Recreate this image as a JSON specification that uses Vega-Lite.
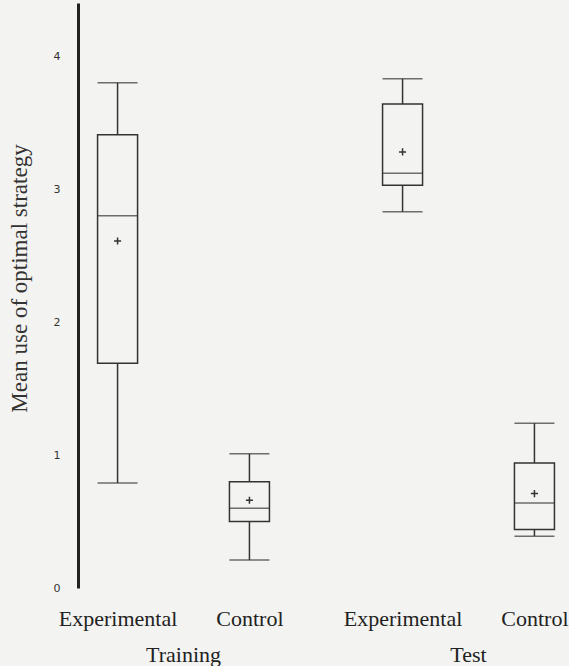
{
  "$schema": "https://vega.github.io/schema/vega-lite/v6.json",
  "background": "#f3f3f1",
  "padding": {"left": 8, "top": 3, "right": 0, "bottom": 0},
  "config": {"view": {"stroke": null}},
  "data": {
    "values": [
      {"phase": "Training", "group": "Experimental", "lower": 0.79, "q1": 1.69, "median": 2.80, "q3": 3.41, "upper": 3.80, "mean": 2.61},
      {"phase": "Training", "group": "Control", "lower": 0.21, "q1": 0.50, "median": 0.60, "q3": 0.80, "upper": 1.01, "mean": 0.66},
      {"phase": "Test", "group": "Experimental", "lower": 2.83, "q1": 3.03, "median": 3.12, "q3": 3.64, "upper": 3.83, "mean": 3.28},
      {"phase": "Test", "group": "Control", "lower": 0.39, "q1": 0.44, "median": 0.64, "q3": 0.94, "upper": 1.24, "mean": 0.71}
    ]
  },
  "facet": {
    "column": {
      "field": "phase", "type": "nominal", "sort": ["Training", "Test"], "title": null,
      "header": {"labelOrient": "bottom", "labelFont": "Liberation Serif", "labelFontSize": 22, "labelColor": "#222", "labelPadding": 16}
    }
  },
  "spacing": 74,
  "spec": {
    "width": 211,
    "height": 585,
    "encoding": {
      "x": {
        "field": "group", "type": "nominal", "sort": ["Experimental", "Control"],
        "scale": {"type": "point", "padding": 0.3},
        "axis": {"title": null, "domain": false, "ticks": false, "labelAngle": 0, "labelFont": "Liberation Serif", "labelFontSize": 22, "labelPadding": 20, "labelColor": "#222"}
      }
    },
    "layer": [
      {
        "mark": {"type": "rule", "color": "#333", "strokeWidth": 1.5},
        "encoding": {
          "y": {"field": "lower", "type": "quantitative", "title": "Mean use of optimal strategy",
            "scale": {"domain": [0, 4.4], "nice": false, "zero": false},
            "axis": {"values": [0, 1, 2, 3, 4], "format": "d", "grid": false, "ticks": false, "domainWidth": 3, "domainColor": "#222", "labelFont": "DejaVu Sans", "labelFontSize": 11, "labelColor": "#333", "labelPadding": 18, "titleFont": "Liberation Serif", "titleFontSize": 23, "titleFontWeight": "normal", "titlePadding": 22, "titleColor": "#333", "titleY": 275}},
          "y2": {"field": "upper"}
        }
      },
      {
        "mark": {"type": "bar", "size": 40, "fill": "#f3f3f1", "stroke": "#333", "strokeWidth": 1.5},
        "encoding": {
          "y": {"field": "q1", "type": "quantitative", "title": "Mean use of optimal strategy"},
          "y2": {"field": "q3"}
        }
      },
      {
        "mark": {"type": "tick", "size": 40, "thickness": 1.5, "color": "#333"},
        "encoding": {"y": {"field": "median", "type": "quantitative", "title": "Mean use of optimal strategy"}}
      },
      {
        "mark": {"type": "tick", "size": 40, "thickness": 1.5, "color": "#333"},
        "encoding": {"y": {"field": "lower", "type": "quantitative", "title": "Mean use of optimal strategy"}}
      },
      {
        "mark": {"type": "tick", "size": 40, "thickness": 1.5, "color": "#333"},
        "encoding": {"y": {"field": "upper", "type": "quantitative", "title": "Mean use of optimal strategy"}}
      },
      {
        "mark": {"type": "point", "shape": "M-1,0H1M0,-1V1", "size": 50, "filled": false, "stroke": "#333", "strokeWidth": 1.5, "opacity": 1},
        "encoding": {"y": {"field": "mean", "type": "quantitative", "title": "Mean use of optimal strategy"}}
      }
    ]
  }
}
